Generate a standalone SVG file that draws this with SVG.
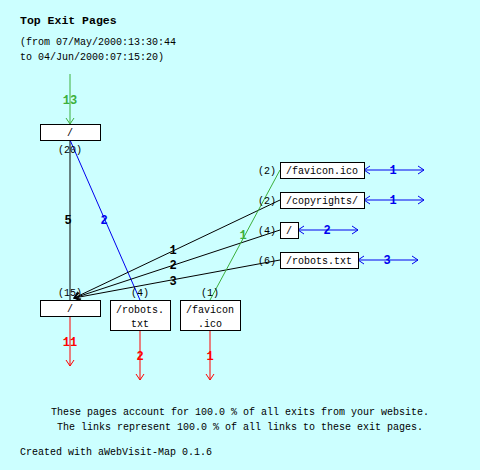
<svg xmlns="http://www.w3.org/2000/svg" width="480" height="470" viewBox="0 0 480 470">
<style>
text{font-family:"Liberation Mono","DejaVu Sans Mono",monospace;font-size:10px;fill:#000}
.t{font-size:11.5px;font-weight:bold}
.c{text-anchor:middle}
.e{text-anchor:end}
.n{font-weight:bold;font-size:12px;text-anchor:middle}
.box{fill:#fff;stroke:#000;stroke-width:1}
.k{stroke:#000;fill:none}
.g{stroke:#3CB03C;fill:none}
.b{stroke:#0000EE;fill:none}
.r{stroke:#FF0000;fill:none}
</style>
<defs>
<marker id="mk" markerUnits="userSpaceOnUse" markerWidth="12" markerHeight="12" refX="0" refY="0" viewBox="-7 -6 8 12" orient="auto-start-reverse"><path d="M-6,-4 L0,0 L-6,4" fill="none" stroke="#000"/></marker>
<marker id="mg" markerUnits="userSpaceOnUse" markerWidth="12" markerHeight="12" refX="0" refY="0" viewBox="-7 -6 8 12" orient="auto-start-reverse"><path d="M-6,-4 L0,0 L-6,4" fill="none" stroke="#3CB03C"/></marker>
<marker id="mb" markerUnits="userSpaceOnUse" markerWidth="12" markerHeight="12" refX="0" refY="0" viewBox="-7 -6 8 12" orient="auto-start-reverse"><path d="M-6,-4 L0,0 L-6,4" fill="none" stroke="#0000EE"/></marker>
<marker id="mr" markerUnits="userSpaceOnUse" markerWidth="12" markerHeight="12" refX="0" refY="0" viewBox="-7 -6 8 12" orient="auto-start-reverse"><path d="M-6,-4 L0,0 L-6,4" fill="none" stroke="#FF0000"/></marker>
</defs>
<rect width="480" height="470" fill="#CCFFFF"/>
<text class="t" x="20" y="24">Top Exit Pages</text>
<text x="20" y="45">(from 07/May/2000:13:30:44</text>
<text x="20" y="60">to 04/Jun/2000:07:15:20)</text>

<g id="connectors">
<line class="g" x1="70" y1="74" x2="70" y2="124" marker-end="url(#mg)"/>
<text class="n" x="70" y="104" style="fill:#3CB03C">13</text>
<line class="k" x1="70" y1="140" x2="70" y2="300"/>
<text class="n" x="68" y="224">5</text>
<line class="b" x1="70" y1="140" x2="140" y2="300"/>
<text class="n" x="104" y="224" style="fill:#0000EE">2</text>
<line class="k" x1="280" y1="200" x2="74" y2="298" marker-end="url(#mk)"/>
<text class="n" x="173" y="254">1</text>
<line class="k" x1="280" y1="230" x2="74" y2="298" marker-end="url(#mk)"/>
<text class="n" x="173" y="269">2</text>
<line class="k" x1="280" y1="260" x2="74" y2="298" marker-end="url(#mk)"/>
<text class="n" x="173" y="285">3</text>
<line class="g" x1="280" y1="170" x2="210" y2="300"/>
<text class="n" x="243" y="239" style="fill:#3CB03C">1</text>
<line class="b" x1="364" y1="170" x2="424" y2="170" marker-start="url(#mb)" marker-end="url(#mb)"/>
<text class="n" x="393" y="174" style="fill:#0000EE">1</text>
<line class="b" x1="364" y1="200" x2="424" y2="200" marker-start="url(#mb)" marker-end="url(#mb)"/>
<text class="n" x="393" y="204" style="fill:#0000EE">1</text>
<line class="b" x1="298" y1="230" x2="358" y2="230" marker-start="url(#mb)" marker-end="url(#mb)"/>
<text class="n" x="327" y="234" style="fill:#0000EE">2</text>
<line class="b" x1="358" y1="260" x2="418" y2="260" marker-start="url(#mb)" marker-end="url(#mb)"/>
<text class="n" x="387" y="264" style="fill:#0000EE">3</text>
<line class="r" x1="70" y1="316" x2="70" y2="366" marker-end="url(#mr)"/>
<text class="n" x="70" y="346" style="fill:#FF0000">11</text>
<line class="r" x1="140" y1="330" x2="140" y2="380" marker-end="url(#mr)"/>
<text class="n" x="140" y="360" style="fill:#FF0000">2</text>
<line class="r" x1="210" y1="330" x2="210" y2="380" marker-end="url(#mr)"/>
<text class="n" x="210" y="360" style="fill:#FF0000">1</text>
</g>

<g id="node-top-root">
<rect class="box" x="40.5" y="124.5" width="60" height="16"/>
<text class="c" x="70" y="136">/</text>
<text class="c" x="70" y="153">(20)</text>
</g>
<g id="node-exit-root">
<rect class="box" x="40.5" y="300.5" width="60" height="16"/>
<text class="c" x="70" y="312">/</text>
<text class="c" x="70" y="296">(15)</text>
</g>
<g id="node-exit-robots">
<rect class="box" x="110.5" y="300.5" width="60" height="30"/>
<text class="c" x="140" y="313">/robots.</text>
<text class="c" x="140" y="327">txt</text>
<text class="c" x="140" y="296">(4)</text>
</g>
<g id="node-exit-favicon">
<rect class="box" x="180.5" y="300.5" width="60" height="30"/>
<text class="c" x="210" y="313">/favicon</text>
<text class="c" x="210" y="327">.ico</text>
<text class="c" x="210" y="296">(1)</text>
</g>
<g id="node-favicon">
<rect class="box" x="280.5" y="162.5" width="84" height="16"/>
<text class="c" x="322" y="174">/favicon.ico</text>
<text class="e" x="276" y="174">(2)</text>
</g>
<g id="node-copyrights">
<rect class="box" x="280.5" y="192.5" width="84" height="16"/>
<text class="c" x="322" y="204">/copyrights/</text>
<text class="e" x="276" y="204">(2)</text>
</g>
<g id="node-root">
<rect class="box" x="280.5" y="222.5" width="18" height="16"/>
<text class="c" x="289" y="234">/</text>
<text class="e" x="276" y="234">(4)</text>
</g>
<g id="node-robots">
<rect class="box" x="280.5" y="252.5" width="78" height="16"/>
<text class="c" x="319" y="264">/robots.txt</text>
<text class="e" x="276" y="264">(6)</text>
</g>

<text class="c" x="240" y="415">These pages account for 100.0 % of all exits from your website.</text>
<text class="c" x="240" y="430">The links represent 100.0 % of all links to these exit pages.</text>
<text x="20" y="455">Created with aWebVisit-Map 0.1.6</text>
</svg>
